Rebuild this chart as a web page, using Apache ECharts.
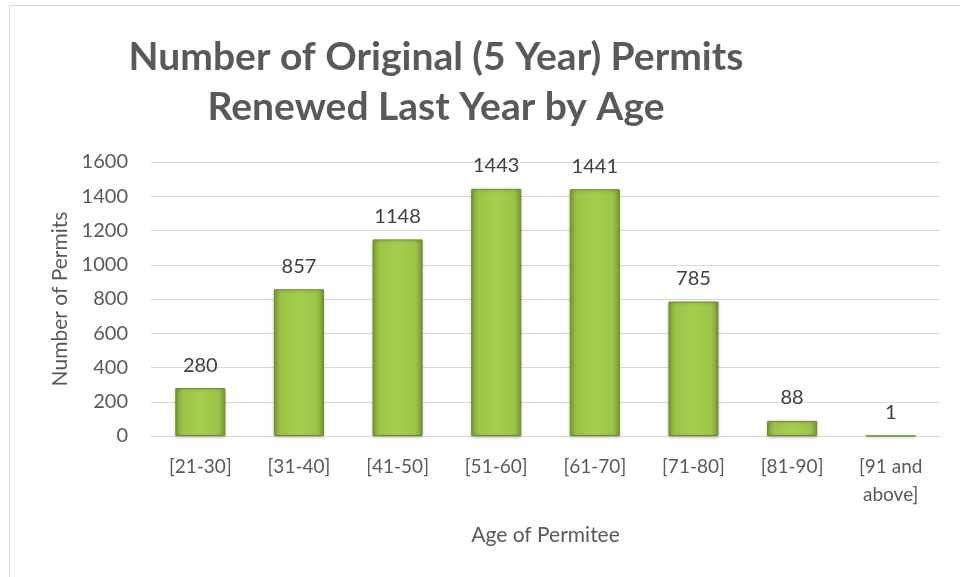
<!DOCTYPE html>
<html>
<head>
<meta charset="utf-8">
<script src="https://cdn.jsdelivr.net/npm/echarts@6/dist/echarts.min.js"></script>
<style>
html, body { margin: 0; padding: 0; background: #fff; }
#chart { width: 960px; height: 577px; }
</style>
</head>
<body>
<div id="chart"></div>
<script>
// data
let ageGroups = ['[21-30]', '[31-40]', '[41-50]', '[51-60]', '[61-70]', '[71-80]', '[81-90]', '[91 and\nabove]'];
let permits = [280, 857, 1148, 1443, 1441, 785, 88, 1];

let chart = echarts.init(document.getElementById('chart'));

let textColor = '#595959';
let fontName = 'Lato';

// bar fill: darker edges, light middle
let barFill = new echarts.graphic.LinearGradient(0, 0, 1, 0, [
    { offset: 0, color: '#7d9c33' },
    { offset: 0.14, color: '#9cc446' },
    { offset: 0.5, color: '#a6cf50' },
    { offset: 0.86, color: '#9cc446' },
    { offset: 1, color: '#7d9c33' }
]);

let option = {
    backgroundColor: '#fff',
    animation: false,
    title: {
        text: 'Number of Original (5 Year) Permits\nRenewed Last Year by Age',
        left: 431,
        top: 27,
        textAlign: 'center',
        textStyle: {
            fontFamily: fontName,
            fontWeight: 'bold',
            fontSize: 39,
            lineHeight: 50,
            color: textColor
        }
    },
    graphic: [{
        type: 'rect',
        shape: { x: 9.5, y: 5.5, width: 960, height: 620 },
        style: { fill: 'none', stroke: '#d9d9d9', lineWidth: 1 },
        silent: true
    }],
    grid: {
        left: 151,
        right: 20,
        top: 162,
        bottom: 141
    },
    xAxis: {
        type: 'category',
        data: ageGroups,
        axisLine: { lineStyle: { color: '#d9d9d9', width: 1 } },
        axisTick: { show: false },
        axisLabel: {
            color: textColor,
            fontFamily: fontName,
            fontSize: 19,
            lineHeight: 28,
            margin: 17
        },
        name: 'Age of Permitee',
        nameLocation: 'middle',
        nameGap: 89,
        nameTextStyle: {
            color: textColor,
            fontFamily: fontName,
            fontSize: 21
        }
    },
    yAxis: {
        type: 'value',
        min: 0,
        max: 1600,
        interval: 200,
        axisLine: { show: false },
        axisTick: { show: false },
        splitLine: { lineStyle: { color: '#d9d9d9', width: 1 } },
        axisLabel: {
            color: textColor,
            fontFamily: fontName,
            fontSize: 20,
            margin: 23,
            formatter: function (v) { return String(v); }
        },
        name: 'Number of Permits',
        nameLocation: 'middle',
        nameGap: 79,
        nameTextStyle: {
            color: textColor,
            fontFamily: fontName,
            fontSize: 21
        }
    },
    series: [{
        type: 'bar',
        data: permits,
        barWidth: 50,
        itemStyle: {
            color: barFill,
            borderColor: '#6f8c2d',
            borderWidth: 1,
            shadowColor: 'rgba(0,0,0,0.25)',
            shadowBlur: 3,
            shadowOffsetY: 1
        },
        label: {
            show: true,
            position: 'top',
            distance: 13,
            color: '#404040',
            fontFamily: fontName,
            fontSize: 20
        }
    }]
};

chart.setOption(option);
</script>
</body>
</html>
